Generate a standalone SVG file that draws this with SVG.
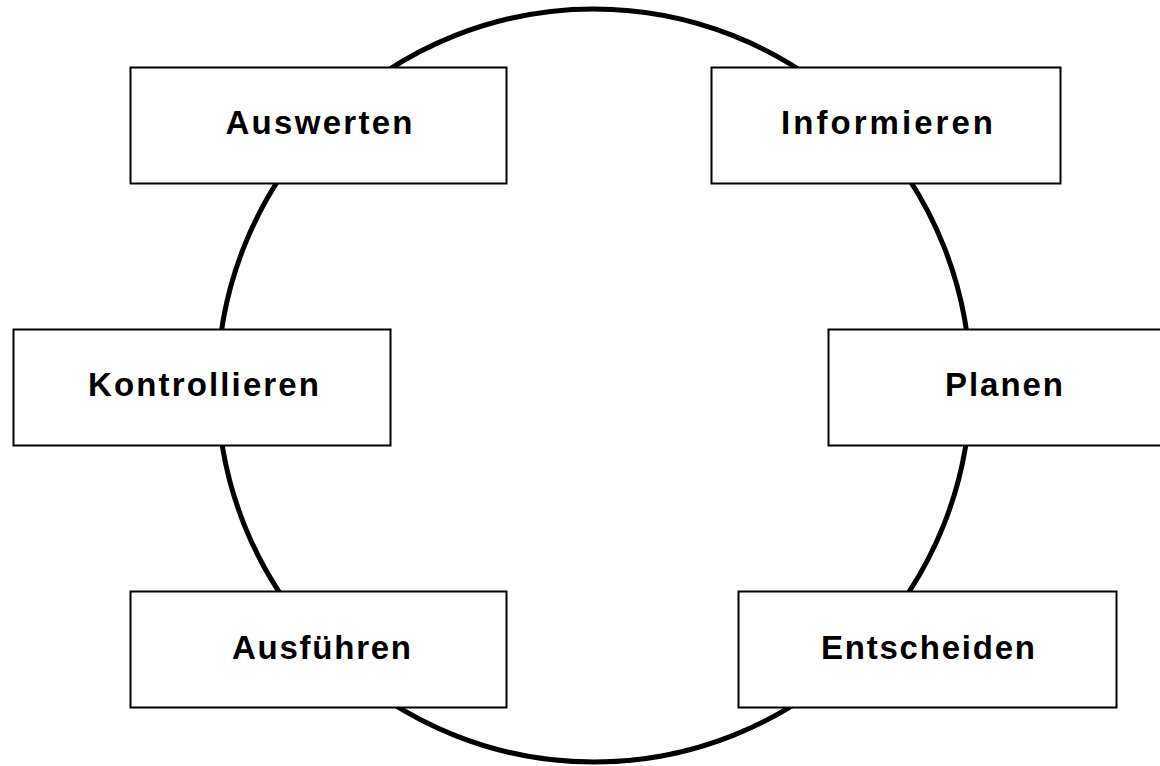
<svg xmlns="http://www.w3.org/2000/svg" width="1160" height="766" viewBox="0 0 1160 766">
  <style>
    .box { fill: #ffffff; stroke: #000000; stroke-width: 2; }
    .label { font-family: "Liberation Sans", Arial, sans-serif; font-weight: bold; font-size: 33px; fill: #000000; text-anchor: middle; }
    .ring { fill: none; stroke: #000000; stroke-width: 5; }
  </style>
  <rect x="0" y="0" width="1160" height="766" fill="#ffffff"/>

  <!-- cycle ring linking the six phases -->
  <g id="connectors">
    <circle class="ring" cx="594" cy="385.5" r="376.5"/>
  </g>

  <g id="node-auswerten">
    <rect class="box" x="130.5" y="67.5" width="376" height="116"/>
    <text class="label" x="319" y="134" textLength="187" lengthAdjust="spacing">Auswerten</text>
  </g>
  <g id="node-informieren">
    <rect class="box" x="711.5" y="67.5" width="349" height="116"/>
    <text class="label" x="887" y="134" textLength="212" lengthAdjust="spacing">Informieren</text>
  </g>
  <g id="node-kontrollieren">
    <rect class="box" x="13.5" y="329.5" width="377" height="116"/>
    <text class="label" x="203.5" y="396" textLength="231" lengthAdjust="spacing">Kontrollieren</text>
  </g>
  <g id="node-planen">
    <rect class="box" x="828.5" y="329.5" width="340" height="116"/>
    <text class="label" x="1004" y="396" textLength="118" lengthAdjust="spacing">Planen</text>
  </g>
  <g id="node-ausfuehren">
    <rect class="box" x="130.5" y="591.5" width="376" height="116"/>
    <text class="label" x="321.5" y="659" textLength="179" lengthAdjust="spacing">Ausführen</text>
  </g>
  <g id="node-entscheiden">
    <rect class="box" x="738.5" y="591.5" width="378" height="116"/>
    <text class="label" x="928" y="659" textLength="214" lengthAdjust="spacing">Entscheiden</text>
  </g>
</svg>
